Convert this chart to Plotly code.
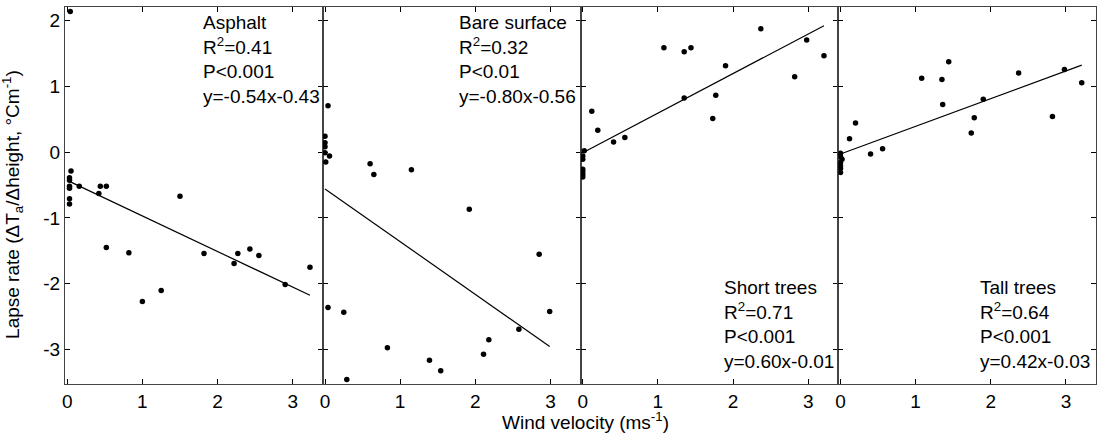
import plotly.graph_objects as go
from plotly.subplots import make_subplots

# ---------------- data ----------------
panel_names = ["Asphalt", "Bare surface", "Short trees", "Tall trees"]
panel_stats = [
    ["R<sup>2</sup>=0.41", "P<0.001", "y=-0.54x-0.43"],
    ["R<sup>2</sup>=0.32", "P<0.01", "y=-0.80x-0.56"],
    ["R<sup>2</sup>=0.71", "P<0.001", "y=0.60x-0.01"],
    ["R<sup>2</sup>=0.64", "P<0.001", "y=0.42x-0.03"],
]
slopes = [-0.54, -0.80, 0.60, 0.42]
intercepts = [-0.43, -0.56, -0.01, -0.03]

asphalt_x = [0.04, 0.05, 0.03, 0.03, 0.03, 0.03, 0.03, 0.03, 0.16, 0.42, 0.44, 0.52, 0.52,
             0.82, 1.00, 1.25, 1.50, 1.82, 2.22, 2.27, 2.43, 2.55, 2.90, 3.23]
asphalt_y = [2.13, -0.29, -0.39, -0.43, -0.52, -0.55, -0.71, -0.79, -0.52, -0.63, -0.52, -0.52, -1.45,
             -1.53, -2.27, -2.10, -0.67, -1.54, -1.69, -1.54, -1.47, -1.57, -2.01, -1.75]

bare_x = [0.04, 0.0, 0.0, 0.0, 0.0, 0.06, 0.01, 0.60, 0.65, 1.15, 1.92, 2.85, 0.04, 0.25,
          2.99, 2.58, 2.18, 2.11, 0.83, 1.39, 1.54, 0.29]
bare_y = [0.70, 0.24, 0.14, 0.08, -0.01, -0.06, -0.15, -0.18, -0.34, -0.27, -0.87, -1.55, -2.36, -2.43,
          -2.42, -2.69, -2.85, -3.07, -2.97, -3.16, -3.32, -3.45]

short_x = [0.12, 0.20, 0.41, 0.56, 0.02, 0.0, 0.0, 0.0, 0.0, 0.0, 0.0, 1.08, 1.35, 1.44, 1.35,
           1.73, 1.77, 1.90, 2.37, 2.82, 2.98, 3.21]
short_y = [0.62, 0.33, 0.15, 0.22, 0.02, -0.06, -0.11, -0.26, -0.30, -0.34, -0.38, 1.58, 1.52, 1.58, 0.82,
           0.51, 0.86, 1.31, 1.87, 1.14, 1.70, 1.46]

tall_x = [0.12, 0.20, 0.40, 0.56, 0.0, 0.0, 0.02, 0.0, 0.0, 0.0, 0.0, 1.08, 1.35, 1.44, 1.36,
          1.74, 1.78, 1.90, 2.37, 2.82, 2.98, 3.21]
tall_y = [0.20, 0.44, -0.03, 0.05, -0.02, -0.07, -0.11, -0.16, -0.21, -0.25, -0.31, 1.12, 1.10, 1.37, 0.72,
          0.29, 0.52, 0.80, 1.20, 0.54, 1.25, 1.05]

xs = [asphalt_x, bare_x, short_x, tall_x]
ys = [asphalt_y, bare_y, short_y, tall_y]

x_ticks = [0, 1, 2, 3]
x_ticklabels = ["0", "1", "2", "3"]
y_ticks = [-3, -2, -1, 0, 1, 2]
y_ticklabels = ["-3", "-2", "-1", "0", "1", "2"]
x_range = [-0.03, 3.40]
y_range = [-3.52, 2.20]
text_top = [True, True, False, False]
text_x = [1.78, 1.76, 1.85, 1.83]

FONT = "Liberation Sans, Arial, sans-serif"
FS = 19

fig = make_subplots(rows=1, cols=4, shared_yaxes=True, horizontal_spacing=0)

for i in range(4):
    c = i + 1
    fig.add_trace(go.Scatter(x=xs[i], y=ys[i], mode="markers",
                             marker=dict(color="black", size=5.5), showlegend=False), row=1, col=c)
    x0, x1 = 0.0, max(xs[i])
    fig.add_trace(go.Scatter(x=[x0, x1], y=[slopes[i] * x0 + intercepts[i], slopes[i] * x1 + intercepts[i]],
                             mode="lines", line=dict(color="black", width=1.2), showlegend=False),
                  row=1, col=c)
    txt = "<br>".join([panel_names[i]] + panel_stats[i])
    xref = "x" if c == 1 else f"x{c}"
    yref = "y" if c == 1 else f"y{c}"
    fig.add_annotation(x=text_x[i], y=2.15 if text_top[i] else -3.37, xref=xref, yref=yref,
                       text=txt, showarrow=False, align="left", xanchor="left",
                       yanchor="top" if text_top[i] else "bottom",
                       font=dict(family=FONT, size=FS, color="black"))
    fig.update_xaxes(range=x_range, tickvals=x_ticks, ticktext=x_ticklabels, ticks="inside", ticklen=5,
                     tickcolor="black", showline=True, linecolor="#444", linewidth=1, mirror="ticks",
                     showgrid=False, zeroline=False, tickfont=dict(family=FONT, size=FS, color="black"),
                     row=1, col=c)
    fig.update_yaxes(range=y_range, tickvals=y_ticks, ticktext=y_ticklabels, ticks="inside", ticklen=5,
                     tickcolor="black", showline=True, linecolor="#444", linewidth=1, mirror="ticks",
                     showgrid=False, zeroline=False, tickfont=dict(family=FONT, size=FS, color="black"),
                     row=1, col=c)

fig.add_annotation(text="Wind velocity (ms<sup>-1</sup>)", xref="paper", yref="paper",
                   x=0.505, y=-0.098, xanchor="center", yanchor="middle", showarrow=False,
                   font=dict(family=FONT, size=FS, color="black"))
fig.add_annotation(text="Lapse rate (ΔT<sub>a</sub>/Δheight, °Cm<sup>-1</sup>)", xref="paper", yref="paper",
                   x=-52 / 1031, y=0.475, xanchor="center", yanchor="middle", textangle=-90,
                   showarrow=False, font=dict(family=FONT, size=FS, color="black"))

fig.update_layout(width=1101, height=436, margin=dict(l=65, r=5, t=7, b=52),
                  paper_bgcolor="white", plot_bgcolor="white",
                  font=dict(family=FONT, size=FS, color="black"))

fig.write_html("out.html")
